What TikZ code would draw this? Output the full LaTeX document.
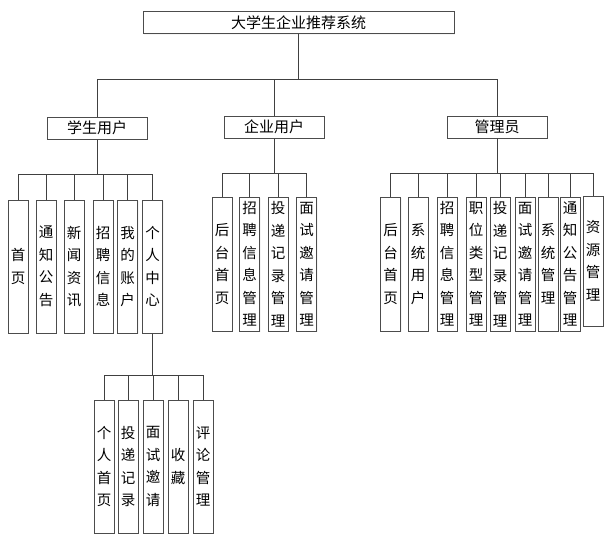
\documentclass[tikz,border=0pt]{standalone}
\usepackage{fontspec}
\setmainfont{Noto Sans CJK SC}
\usetikzlibrary{shadows}

\begin{document}
\begin{tikzpicture}[
  x=1pt, y=-1pt,
  topbox/.style={rectangle, draw=black!70, line width=1pt, fill=white,
                 minimum width=100pt, minimum height=22pt, inner sep=0pt,
                 font=\fontsize{15}{16}\selectfont,
                 drop shadow={shadow xshift=1.2pt, shadow yshift=-1.2pt, fill=black!8}},
  leafbox/.style={rectangle, draw=black!70, line width=1pt, fill=white,
                  minimum width=20pt, minimum height=134pt, inner sep=0pt,
                  align=center, font=\fontsize{14.5}{22.5}\selectfont,
                  drop shadow={shadow xshift=1.2pt, shadow yshift=-1.2pt, fill=black!8}},
  link/.style={draw=black!75, line width=0.9pt}
]
\useasboundingbox (0,0) rectangle (615,543);

\node[topbox, minimum width=311pt] (root) at (298.5,23) {大学生企业推荐系统};

\node[topbox] (stu) at (97,128)  {学生用户};
\node[topbox] (ent) at (274,127) {企业用户};
\node[topbox] (adm) at (497,127) {管理员};

% 学生用户
\node[leafbox, minimum height=133pt] (s1) at (18,266.5)    {首\\页};
\node[leafbox, minimum height=133pt] (s2) at (46,266.5)    {通\\知\\公\\告};
\node[leafbox, minimum height=133pt] (s3) at (74,266.5)    {新\\闻\\资\\讯};
\node[leafbox, minimum height=133pt] (s4) at (103,266.5)   {招\\聘\\信\\息};
\node[leafbox, minimum height=133pt] (s5) at (127.5,266.5) {我\\的\\账\\户};
\node[leafbox, minimum height=133pt] (s6) at (152.5,266.5) {个\\人\\中\\心};

% 个人中心
\node[leafbox, minimum height=133pt] (p1) at (104,466.5) {个\\人\\首\\页};
\node[leafbox, minimum height=133pt] (p2) at (128,466.5) {投\\递\\记\\录};
\node[leafbox, minimum height=133pt] (p3) at (153,466.5) {面\\试\\邀\\请};
\node[leafbox, minimum height=133pt] (p4) at (178,466.5) {收\\藏};
\node[leafbox, minimum height=133pt] (p5) at (203,466.5) {评\\论\\管\\理};

% 企业用户
\node[leafbox] (e1) at (222,264)   {后\\台\\首\\页};
\node[leafbox] (e2) at (249.5,264) {招\\聘\\信\\息\\管\\理};
\node[leafbox] (e3) at (278,264)   {投\\递\\记\\录\\管\\理};
\node[leafbox] (e4) at (306.5,264) {面\\试\\邀\\请\\管\\理};

% 管理员
\node[leafbox] (a1) at (390.5,264) {后\\台\\首\\页};
\node[leafbox] (a2) at (418,264)   {系\\统\\用\\户};
\node[leafbox] (a3) at (447,264)   {招\\聘\\信\\息\\管\\理};
\node[leafbox] (a4) at (476,264)   {职\\位\\类\\型\\管\\理};
\node[leafbox] (a5) at (500,264)   {投\\递\\记\\录\\管\\理};
\node[leafbox] (a6) at (525,264)   {面\\试\\邀\\请\\管\\理};
\node[leafbox] (a7) at (548,264)   {系\\统\\管\\理};
\node[leafbox] (a8) at (570,264)   {通\\知\\公\\告\\管\\理};
\node[leafbox, minimum height=130pt] (a9) at (593,261) {资\\源\\管\\理};

% connectors
\draw[link] (root.south) -- ++(0,45) -| (stu.north);
\draw[link] (root.south) -- ++(0,45) -| (ent.north);
\draw[link] (root.south) -- ++(0,45) -| (adm.north);

\draw[link] (stu.south) -- ++(0,35) -| (s1.north);
\draw[link] (stu.south) -- ++(0,35) -| (s2.north);
\draw[link] (stu.south) -- ++(0,35) -| (s3.north);
\draw[link] (stu.south) -- ++(0,35) -| (s4.north);
\draw[link] (stu.south) -- ++(0,35) -| (s5.north);
\draw[link] (stu.south) -- ++(0,35) -| (s6.north);

\draw[link] (s6.south) -- ++(0,42) -| (p1.north);
\draw[link] (s6.south) -- ++(0,42) -| (p2.north);
\draw[link] (s6.south) -- ++(0,42) -| (p3.north);
\draw[link] (s6.south) -- ++(0,42) -| (p4.north);
\draw[link] (s6.south) -- ++(0,42) -| (p5.north);

\draw[link] (ent.south) -- ++(0,35) -| (e1.north);
\draw[link] (ent.south) -- ++(0,35) -| (e2.north);
\draw[link] (ent.south) -- ++(0,35) -| (e3.north);
\draw[link] (ent.south) -- ++(0,35) -| (e4.north);

\draw[link] (adm.south) -- ++(0,35) -| (a1.north);
\draw[link] (adm.south) -- ++(0,35) -| (a2.north);
\draw[link] (adm.south) -- ++(0,35) -| (a3.north);
\draw[link] (adm.south) -- ++(0,35) -| (a4.north);
\draw[link] (adm.south) -- ++(0,35) -| (a5.north);
\draw[link] (adm.south) -- ++(0,35) -| (a6.north);
\draw[link] (adm.south) -- ++(0,35) -| (a7.north);
\draw[link] (adm.south) -- ++(0,35) -| (a8.north);
\draw[link] (adm.south) -- ++(0,35) -| (a9.north);

\end{tikzpicture}
\end{document}
